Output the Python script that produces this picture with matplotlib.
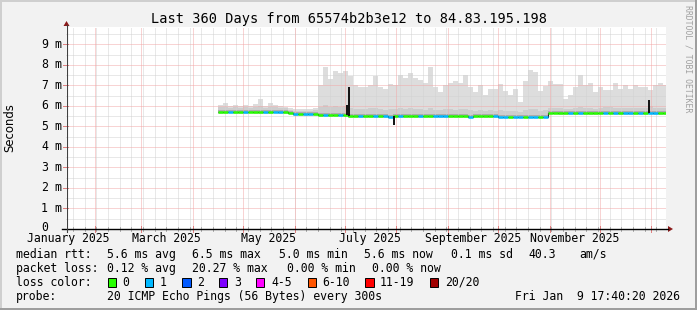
import matplotlib
matplotlib.use('Agg')
import matplotlib.pyplot as plt
import matplotlib.dates as mdates
import matplotlib.transforms as mtrans
from matplotlib.patches import Rectangle, Polygon
import numpy as np
import pandas as pd

# ---------------- data ----------------
bin_start = pd.date_range('2025-04-16', periods=90, freq='3D')   # 3-day bins

median_ms = [5.70, 5.70, 5.71, 5.70, 5.70, 5.70, 5.71, 5.70, 5.70, 5.70,
             5.70, 5.71, 5.70, 5.70, 5.66, 5.59, 5.59, 5.59, 5.59, 5.59,
             5.56, 5.56, 5.56, 5.56, 5.56, 5.56, 5.50, 5.50, 5.50, 5.50,
             5.50, 5.50, 5.50, 5.50, 5.48, 5.50, 5.49, 5.50, 5.50, 5.50,
             5.50, 5.50, 5.50, 5.50, 5.50, 5.49, 5.49, 5.49, 5.49, 5.49,
             5.48, 5.49, 5.49, 5.49, 5.49, 5.49, 5.47, 5.47, 5.47, 5.47,
             5.47, 5.47, 5.47, 5.47, 5.47, 5.48, 5.66, 5.66, 5.65, 5.65,
             5.65, 5.65, 5.65, 5.65, 5.65, 5.65, 5.66, 5.66, 5.67, 5.65,
             5.65, 5.65, 5.65, 5.65, 5.65, 5.65, 5.66, 5.65, 5.65, 5.65]

smoke_top_ms = [6.05, 6.15, 6.00, 6.05, 6.00, 6.05, 6.00, 6.10, 6.35, 6.00,
                6.15, 6.05, 6.00, 5.95, 5.90, 5.85, 5.85, 5.85, 5.85, 5.90,
                7.00, 7.90, 7.30, 7.70, 7.60, 7.70, 7.45, 7.00, 6.90, 6.90,
                7.00, 7.45, 6.90, 6.80, 7.05, 7.00, 7.50, 7.35, 7.60, 7.35,
                7.25, 7.10, 7.90, 6.90, 6.65, 7.00, 7.10, 7.20, 7.10, 7.50,
                6.90, 6.65, 7.00, 6.55, 6.80, 6.80, 7.05, 6.70, 6.55, 6.80,
                6.20, 7.20, 7.75, 7.65, 6.70, 6.95, 7.20, 7.05, 7.05, 6.35,
                6.55, 6.90, 7.50, 7.00, 7.10, 6.65, 6.90, 6.75, 6.75, 7.10,
                6.80, 7.00, 6.80, 7.00, 6.90, 6.90, 6.75, 7.00, 7.10, 7.00]

smoke_mid_ms = [5.92, 5.95, 5.90, 5.92, 5.90, 5.93, 5.90, 5.95, 6.00, 5.90,
                5.95, 5.92, 5.90, 5.88, 5.80, 5.75, 5.75, 5.76, 5.75, 5.78,
                5.95, 6.05, 5.95, 6.00, 5.95, 6.00, 5.90, 5.85, 5.85, 5.85,
                5.90, 5.90, 5.85, 5.80, 5.85, 5.85, 5.90, 5.85, 5.90, 5.85,
                5.85, 5.80, 5.90, 5.80, 5.80, 5.85, 5.85, 5.80, 5.85, 5.85,
                5.80, 5.75, 5.80, 5.75, 5.80, 5.75, 5.80, 5.75, 5.75, 5.75,
                5.70, 5.80, 5.85, 5.85, 5.75, 5.80, 5.90, 5.90, 5.90, 5.85,
                5.85, 5.90, 5.95, 5.90, 5.90, 5.85, 5.90, 5.95, 5.95, 5.90,
                5.90, 5.90, 5.90, 5.90, 5.90, 5.90, 6.00, 5.90, 5.90, 5.90]

loss_cat = [0, 0, 1, 0, 0, 1, 0, 0, 0, 1,
            0, 1, 1, 0, 0, 1, 0, 1, 1, 0,
            0, 1, 0, 0, 1, 0, 0, 0, 1, 0,
            0, 1, 0, 1, 1, 0, 1, 0, 0, 0,
            1, 0, 0, 1, 1, 1, 0, 0, 0, 0,
            1, 0, 0, 0, 0, 1, 1, 1, 0, 1,
            1, 0, 1, 1, 0, 1, 0, 0, 0, 0,
            1, 0, 1, 0, 0, 0, 0, 1, 0, 1,
            0, 1, 1, 0, 1, 0, 1, 1, 0, 0]

spike_times = pd.to_datetime(['2025-07-02 15:00', '2025-07-03 20:00',
                              '2025-07-30 06:00', '2025-12-30 20:00'])
spike_base_ms = [5.56, 5.50, 5.50, 5.65]
spike_end_ms = [6.05, 6.90, 5.07, 6.30]

loss_names = ['0', '1', '2', '3', '4-5', '6-10', '11-19', '20/20']
loss_colors = ['#26ff00', '#00b8ff', '#0059ff', '#7e00ff',
               '#ff00ff', '#ff5500', '#ff0000', '#a00000']

month_label_text = ['January 2025', 'March 2025', 'May 2025',
                    'July 2025', 'September 2025', 'November 2025']
month_label_time = pd.to_datetime(['2025-01-16', '2025-03-16', '2025-05-16',
                                   '2025-07-16', '2025-09-16', '2025-11-16'])
ytick_vals = [0, 1, 2, 3, 4, 5, 6, 7, 8, 9]

title = 'Last 360 Days from 65574b2b3e12 to 84.83.195.198'
row_median = [('median rtt:', 15.6), ('5.6 ms avg', 106.7), ('6.5 ms max', 192.4),
              ('5.0 ms min', 278.7), ('5.6 ms now', 364.4), ('0.1 ms sd', 451.0),
              ('40.3', 528.9), ('am/s', 579.0)]
row_loss = [('packet loss:', 15.6), ('0.12 % avg', 106.7), ('20.27 % max', 192.4),
            ('0.00 % min', 286.7), ('0.00 % now', 372.0)]
probe_text = '20 ICMP Echo Pings (56 Bytes) every 300s'
stamp_text = 'Fri Jan  9 17:40:20 2026'

# ---------------- figure ----------------
W, H = 697, 310
MONO = 'DejaVu Sans Mono'
fig = plt.figure(figsize=(W / 100, H / 100), dpi=100, facecolor='#F2F2F2')


def fx(x):
    return x / W


def fy(y):
    return 1 - y / H


ax = fig.add_axes([fx(66), fy(229), 600 / W, 202 / H])
ax.set_facecolor('white')
for s in ax.spines.values():
    s.set_visible(False)
ax.set_xticks([])
ax.set_yticks([])
t0 = pd.Timestamp('2025-01-14 17:40')
t1 = pd.Timestamp('2026-01-09 17:40')
ax.set_xlim(mdates.date2num(t0), mdates.date2num(t1))
ax.set_ylim(0, 9.84)

xb = mdates.date2num(bin_start)
med = np.array(median_ms)
top = np.array(smoke_top_ms)
mid = np.array(smoke_mid_ms)

# smoke
ax.bar(xb, top - (med - 0.08), bottom=med - 0.08, width=3, align='edge',
       color='#DDDDDD', linewidth=0, zorder=2)
ax.bar(xb, mid - (med - 0.05), bottom=med - 0.05, width=3, align='edge',
       color='#CDCDCD', linewidth=0, zorder=3)
ax.bar(xb, 0.09, bottom=med, width=3, align='edge',
       color='#ACACAC', linewidth=0, zorder=3)

# grid
weeks = pd.date_range('2025-01-19', '2026-01-09', freq='7D')
months = pd.date_range('2025-02-01', '2026-01-01', freq='MS')
dot = (0, (1, 1))
gkw = dict(lw=0.72, ls=dot)
for w in weeks:
    ax.axvline(mdates.date2num(w), color='#D2D2D2', zorder=6, **gkw)
for v in np.arange(0.5, 9.84, 1.0):
    ax.axhline(v, color='#D2D2D2', zorder=6, **gkw)
for m in months:
    ax.axvline(mdates.date2num(m), color='#F2A8A8', zorder=7, **gkw)
for v in ytick_vals[1:]:
    ax.axhline(v, color='#F2A8A8', zorder=7, **gkw)

# median line
edges = np.append(xb, xb[-1] + 3)
ax.stairs(med, edges, baseline=None, color='#222222', lw=0.8, zorder=8)
for i in range(len(med)):
    ax.hlines(med[i], xb[i], xb[i] + 3, color=loss_colors[loss_cat[i]],
              lw=1.8, zorder=9)
ax.vlines(mdates.date2num(spike_times), spike_base_ms, spike_end_ms,
          color='#111111', lw=1.4, zorder=10)

# axis ticks / labels
bx = mtrans.blended_transform_factory(ax.transData, ax.transAxes)
by = mtrans.blended_transform_factory(ax.transAxes, ax.transData)
for w in weeks:
    ax.plot([mdates.date2num(w)] * 2, [-2 / 202, 2 / 202], color='#B0B0B0',
            lw=0.72, transform=bx, clip_on=False, zorder=11)
for m in months:
    ax.plot([mdates.date2num(m)] * 2, [-3 / 202, 3 / 202], color='#E08080',
            lw=0.72, transform=bx, clip_on=False, zorder=11)
for v in ytick_vals:
    ax.plot([-3 / 600, 2 / 600], [v, v], color='#E08080', lw=0.72,
            transform=by, clip_on=False, zorder=11)
for v in ytick_vals:
    ax.text((44.5 - 66) / 600, v + (0.05 if v == 0 else 0), str(v), transform=by,
            ha='center', va='center', family=MONO, size=8.3, color='#000000')
    if v > 0:
        ax.text((57.5 - 66) / 600, v, 'm', transform=by, ha='center',
                va='center', family=MONO, size=8.3, color='#000000')
for t, s in zip(month_label_time, month_label_text):
    ax.text(mdates.date2num(t), -(238.5 - 229) / 202, s, transform=bx,
            ha='center', va='center', family=MONO, size=8.3, color='#000000')

# axes lines and arrows (figure pixels)
fig.lines.append(plt.Line2D([fx(62), fx(668)], [fy(229), fy(229)],
                            transform=fig.transFigure, color='#000000', lw=1.0))
fig.lines.append(plt.Line2D([fx(66.5), fx(66.5)], [fy(232), fy(25)],
                            transform=fig.transFigure, color='#404040', lw=0.8))
fig.patches.append(Polygon([(fx(668), fy(226)), (fx(668), fy(232)), (fx(673), fy(229))],
                           closed=True, transform=fig.transFigure,
                           facecolor='#8B1A1A', edgecolor='none'))
fig.patches.append(Polygon([(fx(63.5), fy(26)), (fx(69.5), fy(26)), (fx(66.5), fy(21))],
                           closed=True, transform=fig.transFigure,
                           facecolor='#8B1A1A', edgecolor='none'))

# frame shading
fig.patches.append(Rectangle((0, fy(2)), 1, 2 / H, transform=fig.transFigure,
                             facecolor='#CFCFCF', edgecolor='none'))
fig.patches.append(Rectangle((0, 0), 2 / W, 1, transform=fig.transFigure,
                             facecolor='#CFCFCF', edgecolor='none'))
fig.patches.append(Rectangle((0, 0), 1, 2 / H, transform=fig.transFigure,
                             facecolor='#9E9E9E', edgecolor='none'))
fig.patches.append(Rectangle((1 - 2 / W, 0), 2 / W, 1, transform=fig.transFigure,
                             facecolor='#9E9E9E', edgecolor='none'))

# texts
fig.text(fx(349), fy(19), title, ha='center', va='center', family=MONO,
         size=9.8, color='#000000')
fig.text(fx(10), fy(127.5), 'Seconds', rotation=90, ha='center', va='center',
         family='DejaVu Sans', size=8.4, color='#000000')
fig.text(fx(688), fy(59), 'RRDTOOL / TOBI OETIKER', rotation=270, ha='center',
         va='center', family=MONO, size=5.9, color='#A0A0A0')

for s, x in row_median:
    fig.text(fx(x), fy(254.3), s, ha='left', va='center', family=MONO, size=8.3)
for s, x in row_loss:
    fig.text(fx(x), fy(268.3), s, ha='left', va='center', family=MONO, size=8.3)
fig.text(fx(15.6), fy(282), 'loss color:', ha='left', va='center', family=MONO, size=8.3)
box_x = [108, 144.9, 182.2, 219, 256, 307.6, 365.3, 430]
lab_x = [122.7, 160, 197, 233.8, 271, 322, 380, 445.3]
for name, col, bxp, lx in zip(loss_names, loss_colors, box_x, lab_x):
    fig.patches.append(Rectangle((fx(bxp), fy(286.7)), 8.4 / W, 8.4 / H,
                                 transform=fig.transFigure, facecolor=col,
                                 edgecolor='#000000', lw=0.7))
    fig.text(fx(lx), fy(282), name, ha='left', va='center', family=MONO, size=8.3)
fig.text(fx(15.6), fy(296.3), 'probe:', ha='left', va='center', family=MONO, size=8.3)
fig.text(fx(106.7), fy(296.3), probe_text, ha='left', va='center', family=MONO, size=8.3)
fig.text(fx(680), fy(296.3), stamp_text, ha='right', va='center', family=MONO, size=8.3)

fig.savefig('out.png', dpi=100, facecolor=fig.get_facecolor())
